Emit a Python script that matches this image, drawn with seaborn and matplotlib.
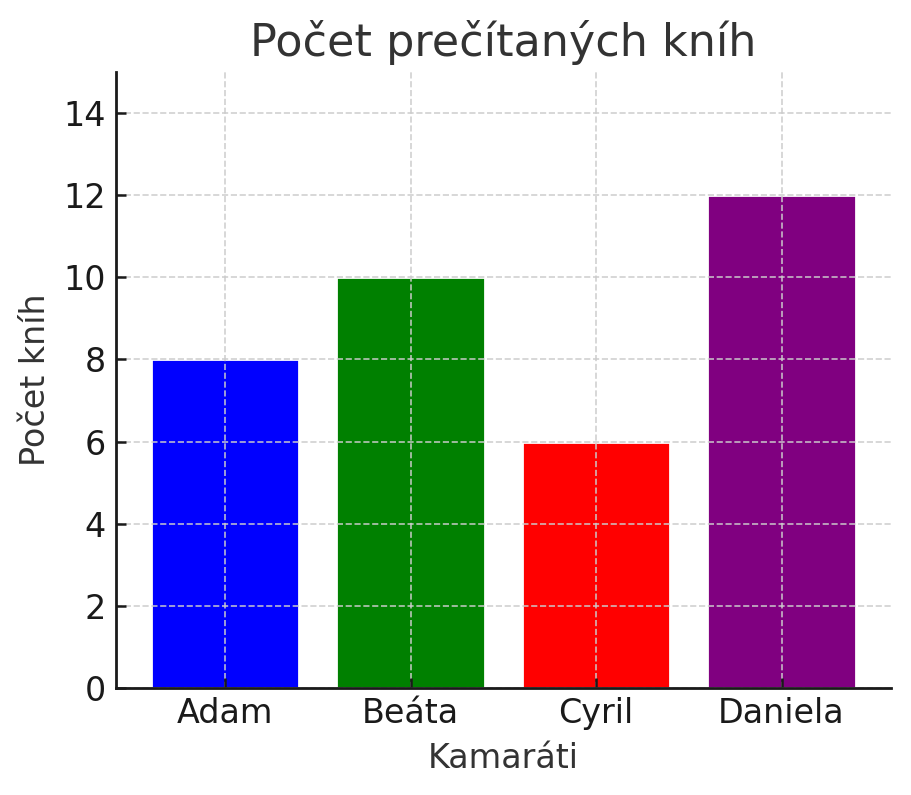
import matplotlib
matplotlib.use("Agg")
import matplotlib.pyplot as plt
import seaborn as sns
import pandas as pd

# data
friends = ["Adam", "Beáta", "Cyril", "Daniela"]
books = [8, 10, 6, 12]
bar_colors = ["blue", "green", "red", "purple"]

df = pd.DataFrame({"Kamaráti": friends, "Počet kníh": books})

sns.set_style("white")
plt.rcParams["font.family"] = ["DejaVu Sans"]

fig, ax = plt.subplots(figsize=(4.555, 3.975), dpi=200)
sns.barplot(data=df, x="Kamaráti", y="Počet kníh", hue="Kamaráti",
            palette=bar_colors, legend=False, width=0.8, saturation=1, ax=ax)

ax.set_title("Počet prečítaných kníh", fontsize=16, color="#333333")
ax.set_xlabel("Kamaráti", fontsize=12, color="#333333")
ax.set_ylabel("Počet kníh", fontsize=12, color="#333333")
ax.set_ylim(0, 15)
ax.set_yticks(range(0, 16, 2))
ax.set_xlim(-0.59, 3.59)
ax.tick_params(labelsize=12, colors="#1a1a1a", direction="in", length=3.5,
               width=0.9, bottom=True, left=True)
ax.grid(True, linestyle="--", color="#cccccc", linewidth=0.6, alpha=0.9)
ax.set_axisbelow(False)
sns.despine(ax=ax)
for s in ["left", "bottom"]:
    ax.spines[s].set_color("#1a1a1a")
    ax.spines[s].set_linewidth(1.0)
    ax.spines[s].set_zorder(5)

fig.subplots_adjust(left=0.127, right=0.978, bottom=0.135, top=0.909)
fig.savefig("out.png", dpi=200)
